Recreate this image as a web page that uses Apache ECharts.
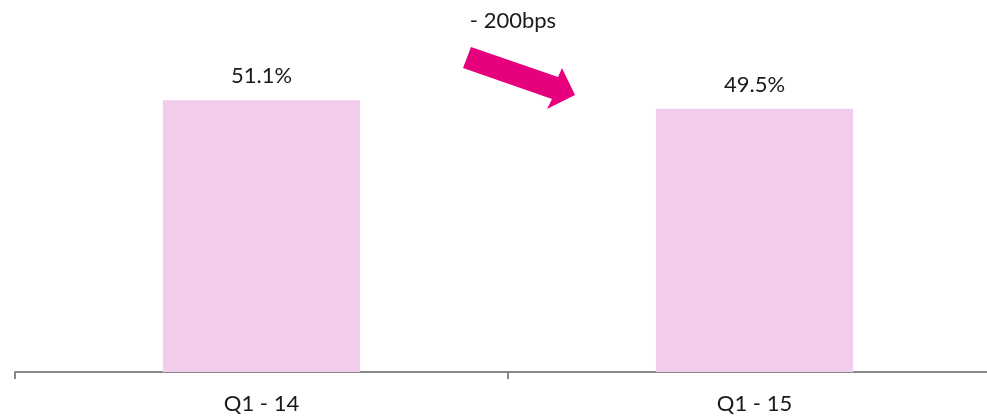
<!DOCTYPE html>
<html>
<head>
<meta charset="utf-8">
<script src="https://cdn.jsdelivr.net/npm/echarts@6/dist/echarts.min.js"></script>
<style>
  html, body { margin: 0; padding: 0; background: #ffffff; }
  #chart { width: 987px; height: 419px; }
</style>
</head>
<body>
<div id="chart"></div>
<script>
// Quarterly margin comparison
const categories = ['Q1 - 14', 'Q1 - 15'];
const marginValues = [51.1, 49.5];
const changeLabel = '- 200bps';

const FONT = 'Lato, "Liberation Sans", sans-serif';

const chart = echarts.init(document.getElementById('chart'));
chart.setOption({
  animation: false,
  grid: { left: 15, width: 986, top: 53, bottom: 47, outerBoundsMode: 'none', containLabel: false },
  xAxis: {
    type: 'category',
    data: categories,
    axisLine: { lineStyle: { color: '#878787', width: 2 } },
    axisTick: { show: true, length: 7, lineStyle: { color: '#878787', width: 2 } },
    axisLabel: { color: '#1a1a1a', fontSize: 22, fontFamily: FONT, margin: 21 }
  },
  yAxis: {
    type: 'value',
    min: 0,
    max: 60,
    show: false,
    splitLine: { show: false }
  },
  series: [{
    type: 'bar',
    data: marginValues,
    barWidth: '40%',
    itemStyle: { color: '#F2CCEB' },
    label: {
      show: true,
      position: 'top',
      distance: 13,
      formatter: p => p.value.toFixed(1) + '%',
      color: '#1a1a1a',
      fontSize: 22,
      fontFamily: FONT
    }
  }],
  graphic: [
    {
      type: 'text',
      x: 513,
      y: 21,
      style: {
        text: changeLabel, fill: '#1a1a1a', fontSize: 22, fontFamily: FONT,
        align: 'center', verticalAlign: 'middle'
      }
    },
    {
      type: 'polygon',
      shape: {
        points: [[471, 47], [558, 77], [562, 68], [575, 95], [547, 109], [552, 99], [463, 68]]
      },
      style: { fill: '#E6007E' }
    }
  ]
});
</script>
</body>
</html>
